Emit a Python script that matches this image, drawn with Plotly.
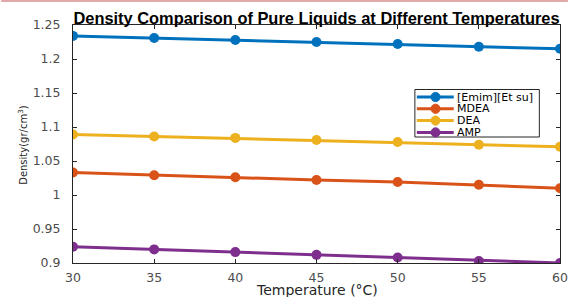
import plotly.graph_objects as go

temps = [30, 35, 40, 45, 50, 55, 60]
emim = [1.234, 1.231, 1.228, 1.225, 1.222, 1.218, 1.215]
mdea = [1.033, 1.029, 1.026, 1.022, 1.019, 1.015, 1.010]
dea = [1.089, 1.086, 1.084, 1.081, 1.078, 1.074, 1.071]
amp = [0.924, 0.920, 0.916, 0.912, 0.908, 0.903, 0.900]

names = ["[Emim][Et su]", "MDEA", "DEA", "AMP"]
values = [emim, mdea, dea, amp]
colors = ["#0072BD", "#D95319", "#EDB120", "#7E2F8E"]

x_ticks = [30, 35, 40, 45, 50, 55, 60]
y_ticks = [0.9, 0.95, 1.0, 1.05, 1.1, 1.15, 1.2, 1.25]
y_labels = ["0.9", "0.95", "1", "1.05", "1.1", "1.15", "1.2", "1.25"]

fig = go.Figure()
for name, vals, col in zip(names, values, colors):
    fig.add_trace(go.Scatter(
        x=temps, y=vals, name=name, mode="lines+markers",
        line=dict(color=col, width=3),
        marker=dict(symbol="circle", size=10, color=col),
        showlegend=False, hoverinfo="skip",
    ))

tfont = "DejaVu Sans, sans-serif"
bfont = "Liberation Sans, Arial, sans-serif"

W, HGT = 576, 297
PL, PT, PW, PH = 73.0, 25.0, 495.0, 238.0


def px(x):
    return (x - PL) / PW


def py(y):
    return (PT + PH - y) / PH


shapes = []
annotations = []
# thin pinkish rule along the very top of the picture
shapes.append(dict(type="line", xref="paper", yref="paper",
                   x0=px(0), x1=px(W), y0=py(1.0), y1=py(1.0),
                   line=dict(color="#e3a8a8", width=2)))
# legend box (layout decoration)
shapes.append(dict(type="rect", xref="paper", yref="paper",
                   x0=px(420.5), x1=px(547), y0=py(137), y1=py(89.5),
                   line=dict(color="#262626", width=1), fillcolor="white", layer="above"))
for i, (name, col) in enumerate(zip(names, colors)):
    yc = 97.0 + i * 11.8
    shapes.append(dict(type="line", xref="paper", yref="paper",
                       x0=px(422.5), x1=px(460), y0=py(yc), y1=py(yc),
                       line=dict(color=col, width=3), layer="above"))
    r = 4.6
    shapes.append(dict(type="circle", xref="paper", yref="paper",
                       x0=px(441.5 - r), x1=px(441.5 + r), y0=py(yc + r), y1=py(yc - r),
                       line=dict(color=col, width=1), fillcolor=col, layer="above"))
    annotations.append(dict(text=name, xref="paper", yref="paper",
                            x=px(461.5), y=py(yc), xanchor="left", yanchor="middle",
                            showarrow=False,
                            font=dict(family=tfont, size=11, color="black")))

annotations.append(dict(text="Temperature (°C)", xref="paper", yref="paper",
                        x=0.5, y=py(290), xanchor="center", yanchor="middle",
                        showarrow=False,
                        font=dict(family=tfont, size=14, color="#262626")))
annotations.append(dict(text="Density(gr/cm<sup>3</sup>)", xref="paper", yref="paper",
                        x=px(22), y=py(145), xanchor="center", yanchor="middle",
                        textangle=-90, showarrow=False,
                        font=dict(family=tfont, size=10, color="#262626")))

fig.update_layout(
    width=W, height=HGT, autosize=False,
    margin=dict(l=73, r=8, t=25, b=34),
    paper_bgcolor="white", plot_bgcolor="white",
    font=dict(family=tfont, size=12, color="#4d4d4d"),
    title=dict(
        text="<b>Density Comparison of Pure Liquids at Different Temperatures</b>",
        x=0.5, xref="paper", xanchor="center", y=1 - 18.0 / HGT, yanchor="middle",
        font=dict(family=bfont, size=16.4, color="black"),
    ),
    showlegend=False,
    hovermode=False,
    shapes=shapes,
    annotations=annotations,
)
fig.update_xaxes(
    range=[30, 60], tickvals=x_ticks, ticktext=[str(t) for t in x_ticks],
    showgrid=False, zeroline=False, showline=True, linecolor="#262626", linewidth=1,
    mirror="ticks", ticks="inside", ticklen=4, tickcolor="#262626",
    tickfont=dict(size=12.5), ticklabeloverflow="allow", ticklabelstandoff=3,
)
fig.update_yaxes(
    range=[0.9, 1.25], tickvals=y_ticks, ticktext=y_labels,
    showgrid=False, zeroline=False, showline=True, linecolor="#262626", linewidth=1,
    mirror="ticks", ticks="inside", ticklen=4, tickcolor="#262626",
    tickfont=dict(size=12.5), ticklabeloverflow="allow", ticklabelstandoff=9,
)
fig.write_html(
    "out.html",
    config={"responsive": False, "displayModeBar": False, "staticPlot": True},
    post_script="document.documentElement.style.margin='0';"
                "document.body.style.margin='0';"
                "document.body.style.overflow='hidden';",
)
